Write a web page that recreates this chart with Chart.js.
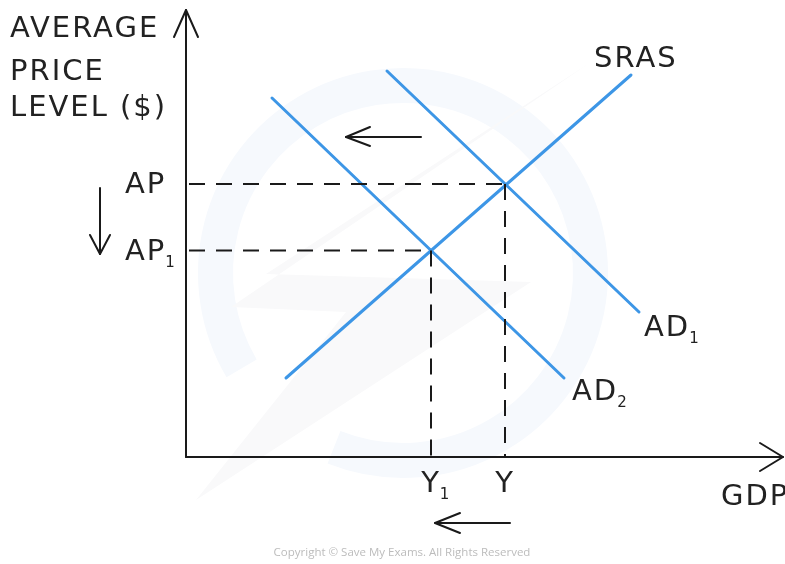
<!DOCTYPE html>
<html>
<head>
<meta charset="utf-8">
<style>
html,body{margin:0;padding:0;background:#fff;}
#c{display:block;}
</style>
<script src="https://cdn.jsdelivr.net/npm/chart.js@4/dist/chart.umd.min.js"></script>
</head>
<body>
<canvas id="c" width="785" height="564"></canvas>
<script>
// ---- data (abstract units: GDP on x, average price level on y) ----
const xRange = [-3.72, 11.96];
const yRange = [-2.14, 9];
const srasLine = [[2.0, 1.58], [8.9, 7.64]];
const ad1Line = [[4.02, 7.72], [9.06, 2.9]];
const ad2Line = [[1.72, 7.18], [7.56, 1.58]];
const equilibriumGDP = [6.38, 4.9];      // Y, Y1
const equilibriumPrice = [5.46, 4.13];   // AP, AP1
const yAxisLine = [[0, 0], [0, 8.94]];
const yAxisHead = [[-0.24, 8.4], [0, 8.94], [0.24, 8.4]];
const xAxisLine = [[0, 0], [11.94, 0]];
const xAxisHead = [[11.48, 0.28], [11.94, 0], [11.48, -0.28]];
const shiftArrowTop = [[4.7, 6.4], [3.2, 6.4]];
const shiftArrowTopHead = [[3.68, 6.6], [3.2, 6.4], [3.68, 6.22]];
const shiftArrowBottom = [[6.48, -1.32], [4.98, -1.32]];
const shiftArrowBottomHead = [[5.48, -1.12], [4.98, -1.32], [5.48, -1.52]];
const priceArrow = [[-1.72, 5.38], [-1.72, 4.06]];
const priceArrowHead = [[-1.92, 4.44], [-1.72, 4.06], [-1.52, 4.44]];
const yAxisTitle = ['AVERAGE', 'PRICE', 'LEVEL ($)'];
const xAxisTitle = 'GDP';
const priceLabels = [['AP', ''], ['AP', '1']];
const gdpLabels = [['Y', ''], ['Y', '1']];
const curveLabels = [['SRAS', ''], ['AD', '1'], ['AD', '2']];
const copyright = 'Copyright \u00A9 Save My Exams. All Rights Reserved';

const BLUE = '#3d96e6';
const INK = '#1a1a1a';
const TEXT = '#222222';
const FONT = '"DejaVu Sans", sans-serif';

const pts = a => a.map(p => ({x: p[0], y: p[1]}));
function ds(points, color, width, dash) {
  return {data: pts(points), showLine: true, borderColor: color, borderWidth: width,
    borderDash: dash || [], pointRadius: 0, pointHoverRadius: 0, fill: false,
    clip: false, borderCapStyle: 'round', borderJoinStyle: 'round', tension: 0};
}

const datasets = [];
equilibriumGDP.forEach((gx, i) => {
  const py = equilibriumPrice[i];
  const h = ds([[0.06, py], [gx, py]], INK, 2, [16, 11]);
  h.borderCapStyle = 'butt';
  const v = ds([[gx, py], [gx, 0]], INK, 2, [16, 11]);
  v.borderCapStyle = 'butt';
  datasets.push(h, v);
});
datasets.push(ds(srasLine, BLUE, 3));
datasets.push(ds(ad1Line, BLUE, 3));
datasets.push(ds(ad2Line, BLUE, 3));
[yAxisLine, yAxisHead, xAxisLine, xAxisHead,
 shiftArrowTop, shiftArrowTopHead, shiftArrowBottom, shiftArrowBottomHead, priceArrow, priceArrowHead]
  .forEach(a => datasets.push(ds(a, INK, 2)));

// faint watermark (decoration behind the diagram)
const watermarkPlugin = {
  id: 'watermark',
  beforeDatasetsDraw(chart) {
    const ctx = chart.ctx;
    const xs = chart.scales.x, ys = chart.scales.y;
    const X = v => xs.getPixelForValue(v);
    const Y = v => ys.getPixelForValue(v);
    const cx = X(4.34), cy = Y(3.68);
    const unit = X(1) - X(0);
    ctx.save();
    ctx.strokeStyle = '#f6f9fd';
    ctx.lineWidth = 0.7 * unit;
    ctx.beginPath();
    ctx.arc(cx, cy, 3.75 * unit, Math.PI * 0.83, Math.PI * 2.62);
    ctx.stroke();
    ctx.fillStyle = '#f9f9fa';
    ctx.beginPath();
    ctx.moveTo(X(8.1), Y(7.9));
    ctx.lineTo(X(1.6), Y(3.66));
    ctx.lineTo(X(6.9), Y(3.5));
    ctx.lineTo(X(0.2), Y(-0.86));
    ctx.lineTo(X(3.2), Y(2.9));
    ctx.lineTo(X(0.9), Y(3.0));
    ctx.closePath();
    ctx.fill();
    ctx.restore();
  }
};

const labelPlugin = {
  id: 'labels',
  afterDatasetsDraw(chart) {
    const ctx = chart.ctx;
    const xs = chart.scales.x, ys = chart.scales.y;
    const X = v => xs.getPixelForValue(v);
    const Y = v => ys.getPixelForValue(v);
    ctx.save();
    ctx.fillStyle = TEXT;
    ctx.textBaseline = 'alphabetic';
    try { ctx.letterSpacing = '2px'; } catch (e) {}
    const big = '29px ' + FONT;
    const sub = '15px ' + FONT;
    function withSub(main, s, x, y, align) {
      ctx.font = big;
      const w = ctx.measureText(main).width;
      let left = x;
      if (align === 'center') left = x - w / 2;
      ctx.textAlign = 'left';
      ctx.font = big;
      ctx.fillText(main, left, y);
      if (s) { ctx.font = sub; ctx.fillText(s, left + w - 1, y + 7); }
    }
    ctx.font = big;
    ctx.textAlign = 'left';
    const titleBase = [8.4, 7.54, 6.82];
    yAxisTitle.forEach((t, i) => ctx.fillText(t, X(-3.52), Y(titleBase[i])));
    withSub(priceLabels[0][0], priceLabels[0][1], X(-1.22), Y(equilibriumPrice[0] - 0.18), 'left');
    withSub(priceLabels[1][0], priceLabels[1][1], X(-1.22), Y(equilibriumPrice[1] - 0.18), 'left');
    withSub(gdpLabels[0][0], gdpLabels[0][1], X(equilibriumGDP[0]), Y(-0.7), 'center');
    withSub(gdpLabels[1][0], gdpLabels[1][1], X(equilibriumGDP[1]), Y(-0.7), 'center');
    withSub(curveLabels[0][0], curveLabels[0][1], X(8.16), Y(7.8), 'left');
    withSub(curveLabels[1][0], curveLabels[1][1], X(9.16), Y(2.42), 'left');
    withSub(curveLabels[2][0], curveLabels[2][1], X(7.72), Y(1.14), 'left');
    ctx.font = big;
    ctx.textAlign = 'left';
    ctx.fillText(xAxisTitle, X(10.7), Y(-0.96));
    try { ctx.letterSpacing = '0px'; } catch (e) {}
    ctx.font = '11.5px "Open Sans", sans-serif';
    ctx.fillStyle = '#bcbcbc';
    ctx.textAlign = 'center';
    ctx.fillText(copyright, X(4.32), Y(-1.98));
    ctx.restore();
  }
};

new Chart(document.getElementById('c'), {
  type: 'scatter',
  data: {datasets},
  options: {
    responsive: false,
    animation: false,
    devicePixelRatio: 1,
    layout: {padding: {left: 0, right: 1, top: 7, bottom: 0}},
    plugins: {legend: {display: false}, tooltip: {enabled: false}, title: {display: false}},
    events: [],
    scales: {
      x: {type: 'linear', min: xRange[0], max: xRange[1], display: false},
      y: {type: 'linear', min: yRange[0], max: yRange[1], display: false}
    }
  },
  plugins: [watermarkPlugin, labelPlugin]
});
</script>
</body>
</html>
